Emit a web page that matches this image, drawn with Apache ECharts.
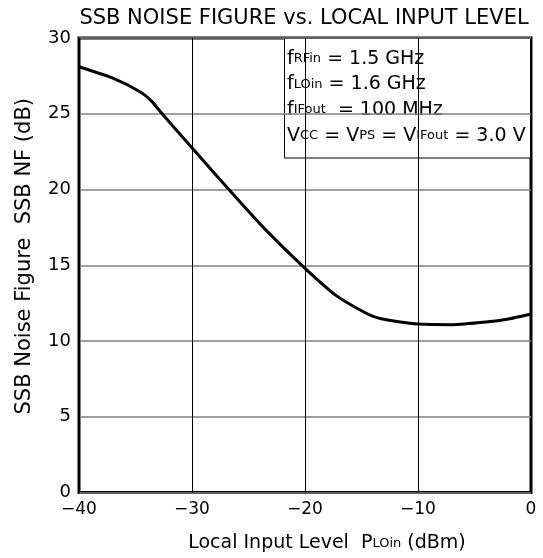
<!DOCTYPE html>
<html>
<head>
<meta charset="utf-8">
<script src="https://cdn.jsdelivr.net/npm/echarts@6/dist/echarts.min.js"></script>
<style>
  html, body { margin: 0; padding: 0; background: #fff; }
  #chart { width: 543px; height: 558px; }
</style>
</head>
<body>
<div id="chart"></div>
<script>
// ---- data ----
const localInputDbm = [-40, -37, -34.6, -33.6, -32.7, -30, -26.5, -23.5, -20, -17.2, -15, -13.7, -12, -10, -7, -4, -2, 0];
const ssbNoiseFigureDb = [28.1, 27.35, 26.45, 25.85, 25.05, 22.75, 19.8, 17.35, 14.8, 12.98, 12.0, 11.56, 11.3, 11.12, 11.08, 11.25, 11.45, 11.78];
const xTicks = [-40, -30, -20, -10, 0];
const yTicks = [0, 5, 10, 15, 20, 25, 30];
const titleText = 'SSB NOISE FIGURE vs. LOCAL INPUT LEVEL';
const conditionLines = [
  ['f', 'RFin', ' = 1.5 GHz'],
  ['f', 'LOin', ' = 1.6 GHz'],
  ['f', 'IFout', '  = 100 MHz']
];

const FONT = 'DejaVu Sans';
const chart = echarts.init(document.getElementById('chart'), null, { renderer: 'canvas' });

const minus = v => String(v).replace('-', '\u2212');

let annot = conditionLines.map(l => '{m|' + l[0] + '}{s|' + l[1] + '}{m|' + l[2] + '}').join('\n');
annot += '\n{m|V}{s|CC}{m| = V}{s|PS}{m| = V}{s|IFout}{m| = 3.0 V}';

const option = {
  backgroundColor: '#fff',
  animation: false,
  title: {
    text: titleText,
    left: 299, top: 3, textAlign: 'center',
    textStyle: { fontFamily: FONT, fontSize: 21, fontWeight: 'normal', color: '#000' }
  },
  grid: {
    left: 79, right: 12, top: 38, bottom: 64,
    show: true, borderColor: '#000', borderWidth: 3, backgroundColor: 'transparent'
  },
  xAxis: {
    type: 'value', min: xTicks[0], max: xTicks[xTicks.length - 1], interval: 10,
    name: '{a|Local Input Level  P}{s|LOin}{a| (dBm)}',
    nameLocation: 'middle', nameGap: 39,
    nameTextStyle: {
      padding: [0, 0, 0, 44],
      rich: {
        a: { fontFamily: FONT, fontSize: 19, color: '#000', lineHeight: 24 },
        s: { fontFamily: FONT, fontSize: 13, color: '#000', lineHeight: 24 }
      }
    },
    axisLine: { show: false },
    axisTick: { show: false },
    axisLabel: { fontFamily: FONT, fontSize: 17, color: '#000', margin: 9, formatter: minus },
    splitLine: { show: true, lineStyle: { color: '#000', width: 1 } }
  },
  yAxis: {
    type: 'value', min: yTicks[0], max: yTicks[yTicks.length - 1], interval: 5,
    name: 'SSB Noise Figure  SSB NF (dB)',
    nameLocation: 'middle', nameGap: 44, nameRotate: 90,
    nameTextStyle: { fontFamily: FONT, fontSize: 21, color: '#000', padding: [0, 0, 0, 18] },
    axisLine: { show: false },
    axisTick: { show: false },
    axisLabel: { fontFamily: FONT, fontSize: 18, color: '#000', margin: 8 },
    splitLine: { show: true, lineStyle: { color: '#808080', width: 1.5 } }
  },
  series: [{
    type: 'line',
    data: localInputDbm.map((x, i) => [x, ssbNoiseFigureDb[i]]),
    smooth: 0.2,
    showSymbol: false,
    lineStyle: { color: '#000', width: 3 },
    z: 3
  }],
  graphic: [{
    type: 'group', z: 10,
    children: [
      { type: 'rect', shape: { x: 284.5, y: 38.5, width: 246, height: 119.5 },
        style: { fill: '#fff', stroke: '#000', lineWidth: 1 } },
      { type: 'text', x: 287, y: 46,
        style: {
          text: annot,
          rich: {
            m: { fontFamily: FONT, fontSize: 19, color: '#000', lineHeight: 25.6 },
            s: { fontFamily: FONT, fontSize: 13, color: '#000', lineHeight: 25.6 }
          }
        } }
    ]
  }]
};
chart.setOption(option);
</script>
</body>
</html>
